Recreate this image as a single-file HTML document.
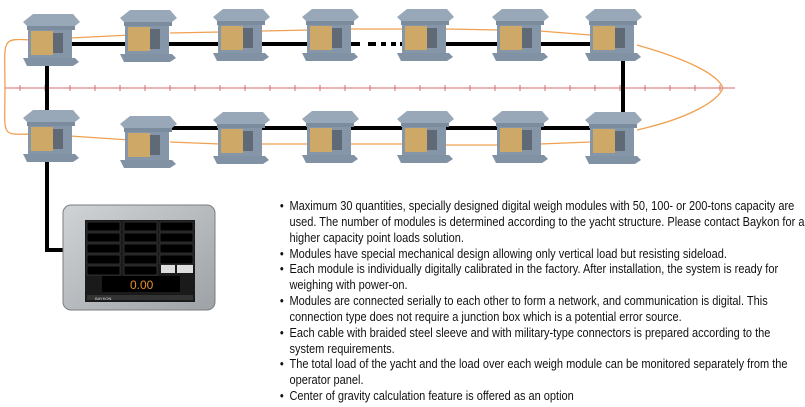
<!DOCTYPE html>
<html><head><meta charset="utf-8"><style>
body{margin:0;width:805px;height:407px;background:#fff;position:relative;overflow:hidden}
.t{position:absolute;left:279px;top:199px;font-family:"Liberation Sans",sans-serif;font-size:12.6px;line-height:15.85px;color:#111;white-space:nowrap;transform:scaleX(0.874);transform-origin:0 0}
.t div{padding-left:12px;position:relative}
.t div:before{content:"•";position:absolute;left:1px}
</style></head><body>
<svg width="805" height="407" style="position:absolute;left:0;top:0">
<defs>
<g id="m">
<polygon points="0,8 10,0 50,0 57,8 52,12 4,12" fill="#98a8b8"/>
<polygon points="4,12 52,12 52,16 4,16" fill="#7a8c9d"/>
<rect x="5" y="16" width="44" height="30" fill="#8596a8"/>
<rect x="8" y="17" width="22" height="24" fill="#cda866"/>
<rect x="30" y="19" width="10" height="20" fill="#5f6a76"/>
<polygon points="0,44 52,44 56,48 50,52 4,52" fill="#8092a4"/>
</g>
<linearGradient id="g" x1="0" y1="0" x2="1" y2="1"><stop offset="0" stop-color="#d0d3d6"/><stop offset="1" stop-color="#9ea2a6"/></linearGradient>
</defs>
<line x1="5" y1="88" x2="735" y2="88" stroke="#d96b6b" stroke-width="1"/>
<g stroke="#d96b6b" stroke-width="1">
<path d="M20 85v6M45 85v6M70 85v6M95 85v6M120 85v6M145 85v6M170 85v6M195 85v6M220 85v6M245 85v6M270 85v6M295 85v6M320 85v6M345 85v6M370 85v6M395 85v6M420 85v6M445 85v6M470 85v6M495 85v6M520 85v6M545 85v6M570 85v6M595 85v6M620 85v6M645 85v6M670 85v6M695 85v6M720 85v6"/>
</g>
<g stroke="#000" stroke-width="4" fill="none">
<path d="M47 44 H360"/>
<path d="M368 44h8M381 44h5M391 44h5M400 44H625"/>
<path d="M623 44 V128 H150"/>
<path d="M47 44 V250 H68"/>
</g>
<g stroke="#f0a050" stroke-width="1.3" fill="none">
<path d="M30 40 C0 38,5 40,5 88 C5 136,0 135,30 134"/>
<path d="M70 38 L130 35 M170 33 L220 32 M262 31 L310 30 M350 29 L405 29 M445 29 L500 30 M540 31 L590 35"/>
<path d="M637 45 C690 60,718 75,723 88 C718 101,690 118,637 130"/>
<path d="M70 136 L130 140 M170 142 L220 144 M262 144 L310 144 M350 144 L405 144 M445 145 L500 145 M540 144 L590 142"/>
</g>
<use href="#m" x="23" y="14"/><use href="#m" x="120" y="10"/><use href="#m" x="213" y="9"/><use href="#m" x="302" y="9"/><use href="#m" x="397" y="9"/><use href="#m" x="492" y="9"/><use href="#m" x="585" y="9"/>
<use href="#m" x="23" y="110"/><use href="#m" x="120" y="116"/><use href="#m" x="213" y="112"/><use href="#m" x="302" y="111"/><use href="#m" x="397" y="111"/><use href="#m" x="492" y="111"/><use href="#m" x="585" y="112"/>
<rect x="63" y="205" width="152" height="105" rx="8" fill="url(#g)" stroke="#7a7e82"/>
<rect x="85" y="220" width="110" height="82" fill="#1a1a1a"/>
<g fill="#000" stroke="#555" stroke-width="0.5">
<rect x="87" y="222" width="33" height="9"/><rect x="124" y="222" width="33" height="9"/><rect x="160" y="222" width="33" height="9"/>
<rect x="87" y="233" width="33" height="9"/><rect x="124" y="233" width="33" height="9"/><rect x="160" y="233" width="33" height="9"/>
<rect x="87" y="244" width="33" height="9"/><rect x="124" y="244" width="33" height="9"/><rect x="160" y="244" width="33" height="9"/>
<rect x="87" y="255" width="33" height="9"/><rect x="124" y="255" width="33" height="9"/><rect x="160" y="255" width="33" height="9"/>
<rect x="87" y="266" width="33" height="9"/><rect x="124" y="266" width="33" height="9"/>
</g>
<rect x="161" y="265" width="14" height="8" fill="#ddd"/><rect x="177" y="265" width="16" height="8" fill="#ddd"/>
<rect x="102" y="276" width="78" height="16" fill="#000"/>
<text x="130" y="289" font-family="Liberation Sans" font-size="12" fill="#e8902a">0.00</text>
<rect x="87" y="295" width="106" height="5" fill="#333"/>
<text x="95" y="300" font-family="Liberation Sans" font-size="4" fill="#ddd">BAYKON</text>
</svg>
<div class="t">
<div>Maximum 30 quantities, specially designed digital weigh modules with 50, 100- or 200-tons capacity are<br>used. The number of modules is determined according to the yacht structure. Please contact Baykon for a<br>higher capacity point loads solution.</div>
<div>Modules have special mechanical design allowing only vertical load but resisting sideload.</div>
<div>Each module is individually digitally calibrated in the factory. After installation, the system is ready for<br>weighing with power-on.</div>
<div>Modules are connected serially to each other to form a network, and communication is digital. This<br>connection type does not require a junction box which is a potential error source.</div>
<div>Each cable with braided steel sleeve and with military-type connectors is prepared according to the<br>system requirements.</div>
<div>The total load of the yacht and the load over each weigh module can be monitored separately from the<br>operator panel.</div>
<div>Center of gravity calculation feature is offered as an option</div>
</div>
</body></html>
